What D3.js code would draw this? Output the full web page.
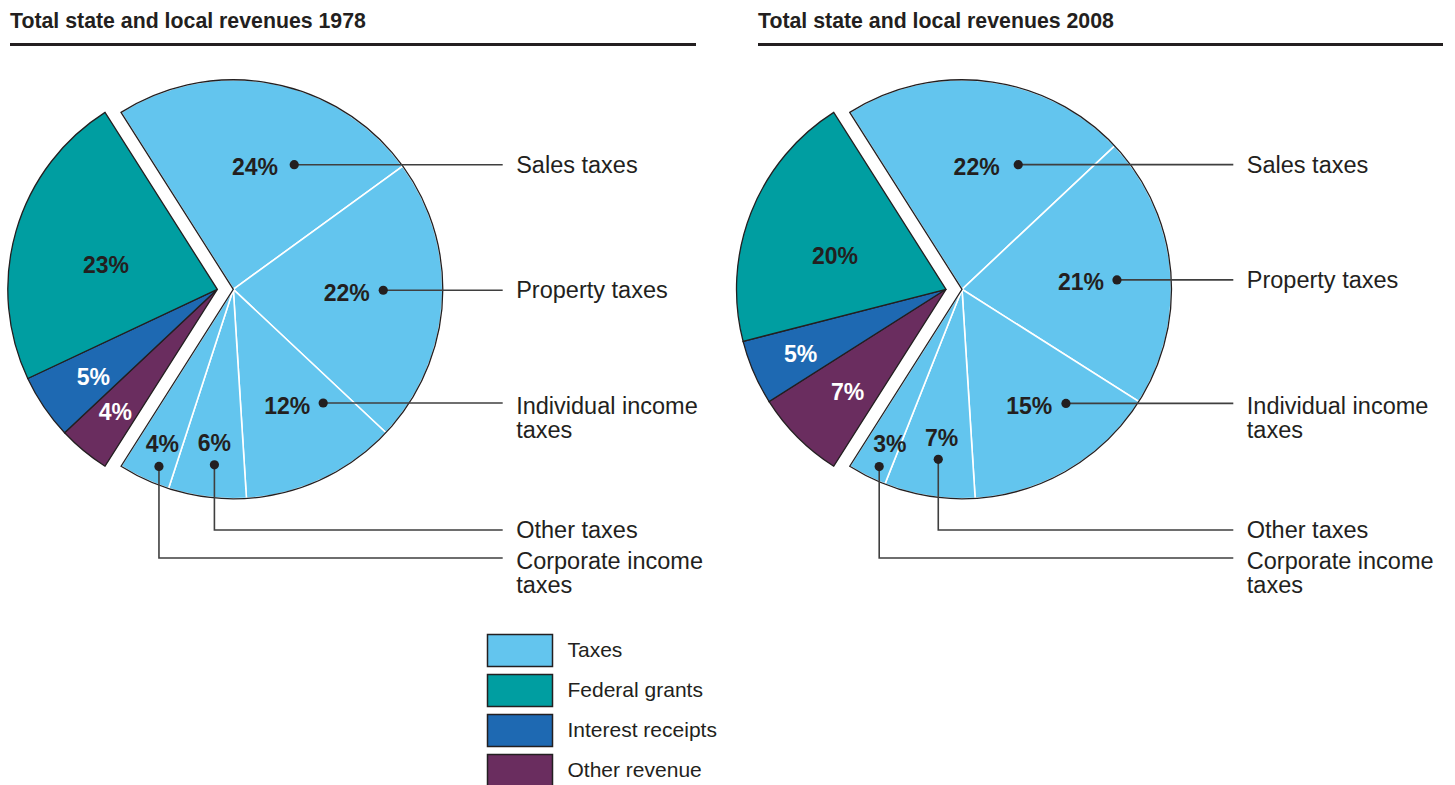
<!DOCTYPE html>
<html>
<head>
<meta charset="utf-8">
<script src="https://cdn.jsdelivr.net/npm/d3@7"></script>
<style>
  html, body { margin: 0; padding: 0; background: #fff; }
  svg { display: block; }
  text { font-family: "Liberation Sans", Arial, Helvetica, sans-serif; fill: #231f20; }
</style>
</head>
<body>
<svg id="chart" width="1455" height="785"></svg>
<script>
// ---- Data -------------------------------------------------------------
const years = ["1978", "2008"];
const categories = [
  "Sales taxes", "Property taxes", "Individual income taxes", "Other taxes",
  "Corporate income taxes", "Other revenue", "Interest receipts", "Federal grants"
];
// revenue group each category belongs to (drives colour and explosion)
const categoryGroup = [
  "Taxes", "Taxes", "Taxes", "Taxes", "Taxes",
  "Other revenue", "Interest receipts", "Federal grants"
];
const values1978 = [24, 22, 12, 6, 4, 4, 5, 23];
const values2008 = [22, 21, 15, 7, 3, 7, 5, 20];
const legendLabels = ["Taxes", "Federal grants", "Interest receipts", "Other revenue"];
const calloutLabels = [
  ["Sales taxes"], ["Property taxes"], ["Individual income", "taxes"],
  ["Other taxes"], ["Corporate income", "taxes"]
];

// ---- Styling / layout ----------------------------------------------------
const groupColors = {
  "Taxes": "#63c5ee",
  "Federal grants": "#009ea1",
  "Interest receipts": "#1e69b2",
  "Other revenue": "#6a2d5f"
};
const ink = "#231f20";
const panels = [
  { values: values1978, cx: 225.3, titleX: 10, ruleX1: 10, ruleX2: 696, calloutX: 502.7,
    labelRadius: [124.5, 113.4, 128, 155, 170, 159.3, 151.7, 114],
    labelTurn:   [-0.8, -1.9, 0.3, -0.2, -0.5, 0.2, -1, -3.9],
    dotOffset: [[39.3, -2], [36.6, -2.4], [36, -2.4], [0, 21.7], [-3.3, 22.7]] },
  { values: values2008, cx: 954, titleX: 758, ruleX1: 758, ruleX2: 1443, calloutX: 1233.3,
    labelRadius: [123.5, 119.2, 134.5, 149.8, 170.6, 142, 158.8, 116],
    labelTurn:   [-0.4, 1.7, 0.6, -1.2, -2, -1.1, -0.4, -4.8],
    dotOffset: [[41.6, -2], [36, -1.7], [36.7, -2.4], [-3.4, 21.6], [-10.7, 22.7]] }
];
const cy = 289.3;
const radius = 209.5;
const explode = 8;                 // horizontal shift of each group away from the other
const lowerCalloutY = [530, 558];  // elbow rows for the two small tax slices

const svg = d3.select("#chart");

panels.forEach((p, pi) => {
  const g = svg.append("g");

  // title + rule
  g.append("text")
    .attr("x", p.titleX).attr("y", 28)
    .attr("font-size", 21.3).attr("font-weight", "bold")
    .text("Total state and local revenues " + years[pi]);
  g.append("line")
    .attr("x1", p.ruleX1).attr("x2", p.ruleX2)
    .attr("y1", 44.5).attr("y2", 44.5)
    .attr("stroke", ink).attr("stroke-width", 3);

  const total = d3.sum(p.values);
  const taxShare = d3.sum(p.values.filter((v, i) => categoryGroup[i] === "Taxes")) / total;
  // taxes are centred on 3 o'clock, the rest on 9 o'clock
  const start = Math.PI / 2 - taxShare * Math.PI;
  const pie = d3.pie().sort(null).value(d => d.value)
    .startAngle(start).endAngle(start + 2 * Math.PI);
  const arcs = pie(p.values.map((v, i) => ({ value: v, name: categories[i], group: categoryGroup[i], i })));
  const arc = d3.arc().innerRadius(0).outerRadius(radius);

  const taxArcs = arcs.filter(a => a.data.group === "Taxes");
  const otherArcs = arcs.filter(a => a.data.group !== "Taxes");

  const gTax = g.append("g").attr("transform", `translate(${p.cx + explode},${cy})`);
  const gOther = g.append("g").attr("transform", `translate(${p.cx - explode},${cy})`);

  // non-tax wedges: each outlined in dark ink
  gOther.selectAll("path").data(otherArcs).join("path")
    .attr("d", arc)
    .attr("fill", d => groupColors[d.data.group])
    .attr("stroke", ink).attr("stroke-width", 1.3).attr("stroke-linejoin", "miter");

  // tax wedges: white dividers, then one dark outline round the whole group
  gTax.selectAll("path.slice").data(taxArcs).join("path")
    .attr("class", "slice")
    .attr("d", arc)
    .attr("fill", groupColors["Taxes"])
    .attr("stroke", "#fff").attr("stroke-width", 1.6);
  gTax.append("path")
    .attr("d", arc({ startAngle: taxArcs[0].startAngle, endAngle: taxArcs[taxArcs.length - 1].endAngle }))
    .attr("fill", "none").attr("stroke", ink).attr("stroke-width", 1.3);

  // percentage labels
  arcs.forEach((a, k) => {
    const isTax = a.data.group === "Taxes";
    const ox = isTax ? p.cx + explode : p.cx - explode;
    const ang = (a.startAngle + a.endAngle) / 2 + p.labelTurn[k] * Math.PI / 180;
    const r = p.labelRadius[k];
    const lx = ox + r * Math.sin(ang);
    const ly = cy - r * Math.cos(ang);
    const light = a.data.group === "Interest receipts" || a.data.group === "Other revenue";
    g.append("text")
      .attr("x", lx).attr("y", ly).attr("dy", "0.36em")
      .attr("text-anchor", "middle")
      .attr("font-size", 23).attr("font-weight", "bold")
      .style("fill", light ? "#fff" : ink)
      .text(a.data.value + "%");

    if (!isTax) return;
    // callout: dot, leader line, category name
    const [dx, dy] = p.dotOffset[k];
    const dotX = lx + dx, dotY = ly + dy;
    let lineY, pts;
    if (k < 3) {
      lineY = dotY;
      pts = [[dotX, dotY], [p.calloutX, dotY]];
    } else {
      lineY = lowerCalloutY[k - 3];
      pts = [[dotX, dotY], [dotX, lineY], [p.calloutX, lineY]];
    }
    g.append("path")
      .attr("d", d3.line()(pts))
      .attr("fill", "none").attr("stroke", "#3f3f3f").attr("stroke-width", 1.6);
    g.append("circle")
      .attr("cx", dotX).attr("cy", dotY).attr("r", 4.6).attr("fill", ink);
    const lines = calloutLabels[k];
    const t = g.append("text")
      .attr("x", p.calloutX + 13.5)
      .attr("y", lineY + 8 + (lines.length > 1 ? 3 : 0))
      .attr("font-size", 23.5);
    lines.forEach((s, li) => {
      t.append("tspan").attr("x", p.calloutX + 13.5).attr("dy", li === 0 ? 0 : 24).text(s);
    });
  });
});

// ---- Legend ---------------------------------------------------------------
const legend = svg.append("g").attr("transform", "translate(487.5,634.5)");
const rows = legend.selectAll("g").data(legendLabels).join("g")
  .attr("transform", (d, i) => `translate(0,${i * 40})`);
rows.append("rect")
  .attr("width", 65).attr("height", 32)
  .attr("fill", d => groupColors[d])
  .attr("stroke", ink).attr("stroke-width", 1.5);
rows.append("text")
  .attr("x", 80).attr("y", 15.5).attr("dy", "0.35em")
  .attr("font-size", 21)
  .text(d => d);
</script>
</body>
</html>
